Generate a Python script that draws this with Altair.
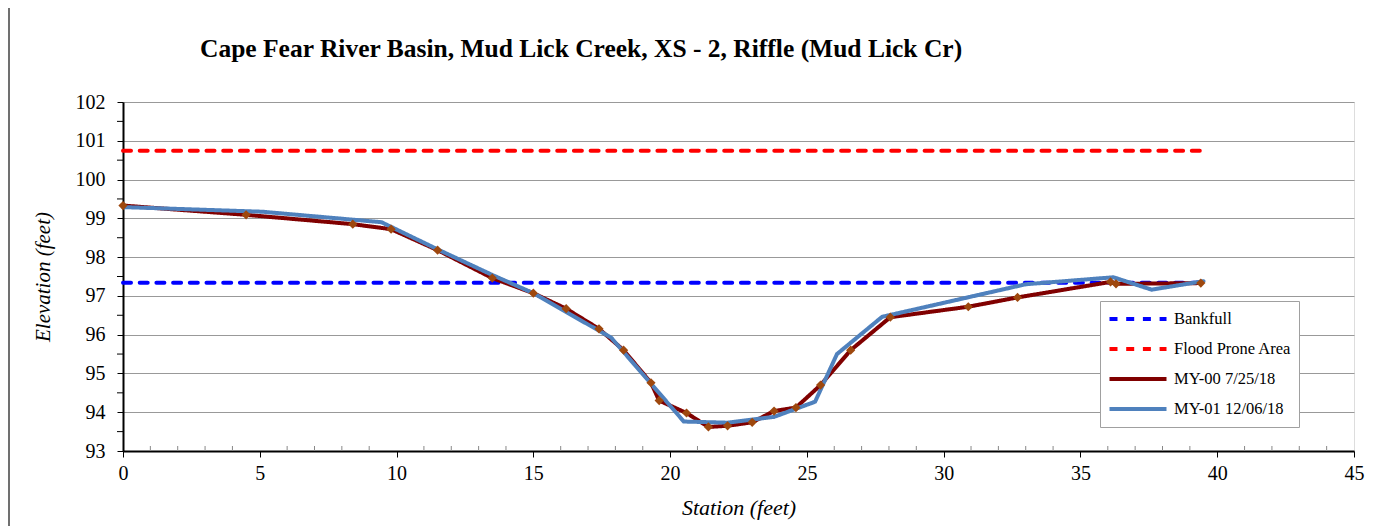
import altair as alt
import pandas as pd

# ---- data ----
my00_station = [0, 4.5, 8.4, 9.8, 11.5, 13.5, 15.0, 16.2, 17.4, 18.3, 19.3, 19.6, 20.6, 21.4,
                22.1, 23.0, 23.8, 24.6, 25.5, 26.6, 28.05, 30.9, 32.7, 36.1, 36.3, 39.4]
my00_elev = [99.33, 99.09, 98.85, 98.72, 98.18, 97.46, 97.07, 96.67, 96.15, 95.6, 94.76, 94.3,
             93.98, 93.62, 93.65, 93.74, 94.03, 94.12, 94.7, 95.6, 96.45, 96.72, 96.96, 97.36,
             97.31, 97.33]

my01_station = [0, 5.1, 9.45, 11.5, 13.5, 15.0, 17.85, 20.5, 22.1, 23.8, 25.3, 26.1, 27.75,
                33.0, 36.2, 37.6, 39.5]
my01_elev = [99.29, 99.17, 98.9, 98.2, 97.54, 97.07, 95.92, 93.76, 93.73, 93.88, 94.27, 95.5,
             96.46, 97.3, 97.48, 97.16, 97.38]

bankfull_station = [0, 39.5]
bankfull_elev = [97.34, 97.34]
flood_station = [0, 39.5]
flood_elev = [100.74, 100.74]

x_major_ticks = [0, 5, 10, 15, 20, 25, 30, 35, 40, 45]
x_minor_ticks = [i for i in range(46) if i % 5 != 0]
y_major_ticks = [93, 94, 95, 96, 97, 98, 99, 100, 101, 102]
y_minor_ticks = [93.5, 94.5, 95.5, 96.5, 97.5, 98.5, 99.5, 100.5, 101.5]

series_names = ["Bankfull", "Flood Prone Area", "MY-00 7/25/18", "MY-01 12/06/18"]
series_colors = ["#0000FF", "#FF0000", "#800000", "#4F81BD"]
series_dash = [[8, 8.7], [8, 8.7], [1, 0], [1, 0]]
series_width = [4, 4, 3.5, 5]

rows = []
for s, xs, ys in [(series_names[0], bankfull_station, bankfull_elev),
                  (series_names[1], flood_station, flood_elev),
                  (series_names[2], my00_station, my00_elev),
                  (series_names[3], my01_station, my01_elev)]:
    for i, (x, y) in enumerate(zip(xs, ys)):
        rows.append({"series": s, "station": x, "elev": y, "order": i})
df = pd.DataFrame(rows)
pts = pd.DataFrame({"station": my00_station, "elev": my00_elev})
xminor_df = pd.DataFrame({"station": x_minor_ticks})
yminor_df = pd.DataFrame({"elev": y_minor_ticks})

W, H = 1231, 349
FONT = "Liberation Serif"

xscale = alt.Scale(domain=[0, 45], nice=False, zero=False)
yscale = alt.Scale(domain=[93, 102], nice=False, zero=False)

x_axis = alt.Axis(
    values=x_major_ticks, format="d", tickCount=60,
    labelOverlap=False, labelFlush=False,
    title="Station (feet)", titleFontStyle="italic", titleFontWeight="normal",
    titleFont=FONT, titleFontSize=22, titleColor="black", titlePadding=14,
    labelFont=FONT, labelFontSize=20, labelColor="black", labelPadding=6,
    grid=False, domainColor="black", domainWidth=2,
    tickSize=6, tickColor="black", tickWidth=1,
)
y_axis = alt.Axis(
    values=y_major_ticks, format="d", tickCount=60,
    labelOverlap=False, labelFlush=False,
    title="Elevation (feet)", titleFontStyle="italic", titleFontWeight="normal",
    titleFont=FONT, titleFontSize=21, titleColor="black", titlePadding=22,
    labelFont=FONT, labelFontSize=20, labelColor="black", labelPadding=12,
    grid=True, gridColor="#999999", gridWidth=1,
    domainColor="black", domainWidth=2, tickColor="black", tickSize=6, tickWidth=1,
)

lines = alt.Chart(df).mark_line(strokeCap="round").encode(
    x=alt.X("station:Q", scale=xscale, axis=x_axis),
    y=alt.Y("elev:Q", scale=yscale, axis=y_axis),
    order="order:Q",
    color=alt.Color("series:N", scale=alt.Scale(domain=series_names, range=series_colors),
                    legend=alt.Legend(
                        title=None, orient="none", legendX=977, legendY=199,
                        symbolType="stroke", symbolSize=3250, symbolStrokeWidth=4,
                        labelFont=FONT, labelFontSize=16.5, labelColor="black", labelOffset=5,
                        clipHeight=22, rowPadding=8, padding=7, fillColor="white",
                        strokeColor="#A0A0A0", labelLimit=300,
                    )),
    strokeDash=alt.StrokeDash("series:N", scale=alt.Scale(domain=series_names, range=series_dash), legend=None),
    strokeWidth=alt.StrokeWidth("series:N", scale=alt.Scale(domain=series_names, range=series_width), legend=None),
)

markers = alt.Chart(pts).mark_point(shape="diamond", filled=True, size=85, color="#9E480E", opacity=1).encode(
    x=alt.X("station:Q", scale=xscale),
    y=alt.Y("elev:Q", scale=yscale),
)

x_minor = alt.Chart(xminor_df).mark_rule(color="#888888", strokeWidth=1).encode(
    x=alt.X("station:Q", scale=xscale), y=alt.value(H - 5), y2=alt.value(H)
)
y_minor = alt.Chart(yminor_df).mark_rule(color="black", strokeWidth=1).encode(
    y=alt.Y("elev:Q", scale=yscale), x=alt.value(-6), x2=alt.value(0)
)

border_left = alt.Chart(pts).mark_rule(color="#707070", strokeWidth=1.5).encode(
    x=alt.value(-114), y=alt.value(-96), y2=alt.value(H + 90)
)
border_top = alt.Chart(pts).mark_rule(color="#707070", strokeWidth=1.5).encode(
    x=alt.value(-114), x2=alt.value(W + 40), y=alt.value(-96)
)

chart = alt.layer(lines, markers, x_minor, y_minor, border_left, border_top).properties(
    width=W, height=H,
    autosize=alt.AutoSizeParams(type="none"),
    padding={"left": 115, "top": 94, "right": 25, "bottom": 75},
    title=alt.TitleParams(
        "Cape Fear River Basin, Mud Lick Creek, XS - 2, Riffle (Mud Lick Cr)",
        font=FONT, fontSize=25.5, fontWeight="bold", color="black",
        anchor="start", frame="group", dx=77, offset=0, dy=57,
    ),
).configure_view(stroke="black", strokeWidth=2).configure(background="white")

chart.save("out.html", embed_options={"renderer": "svg", "actions": False})
